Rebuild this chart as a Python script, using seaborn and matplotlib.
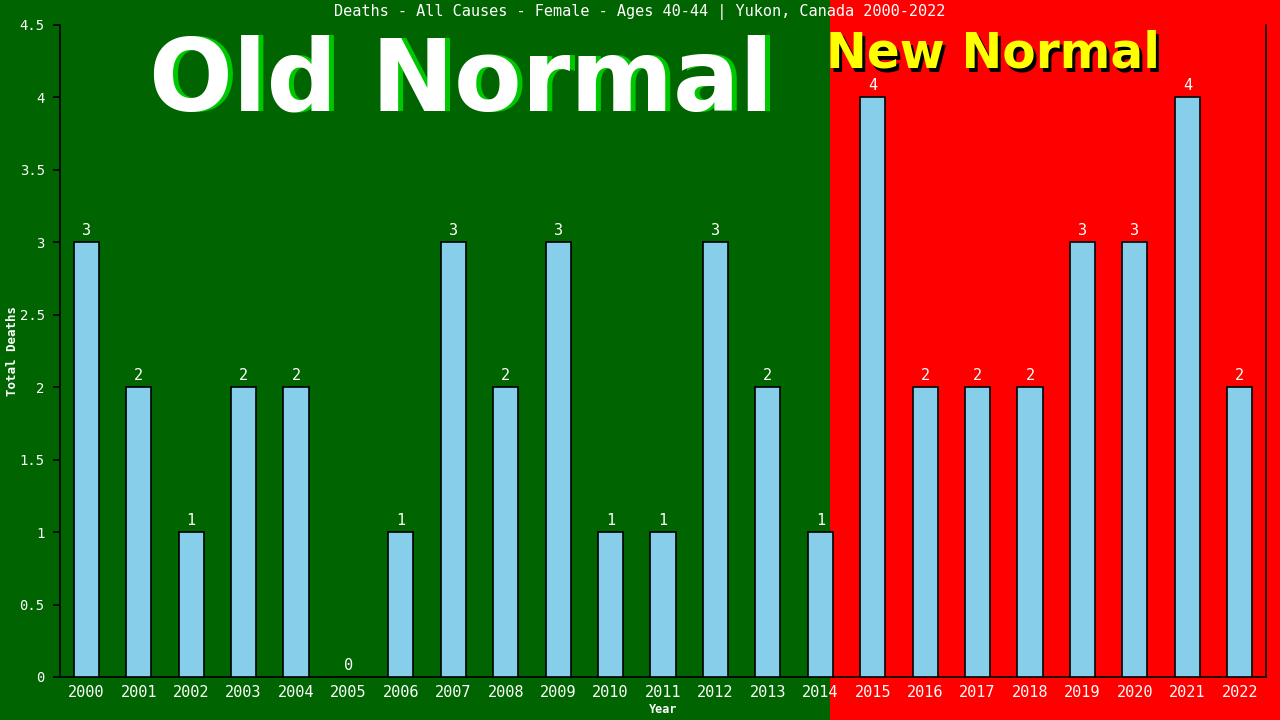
import matplotlib
matplotlib.use("Agg")
import matplotlib.pyplot as plt
import matplotlib.transforms as mtransforms
from matplotlib.patches import Rectangle
import seaborn as sns
import pandas as pd

years = [str(y) for y in range(2000, 2023)]
deaths = [3, 2, 1, 2, 2, 0, 1, 3, 2, 3, 1, 1, 3, 2, 1, 4, 2, 2, 2, 3, 3, 4, 2]
yticks = [0, 0.5, 1, 1.5, 2, 2.5, 3, 3.5, 4, 4.5]
ytick_labels = ["0", "0.5", "1", "1.5", "2", "2.5", "3", "3.5", "4", "4.5"]
title = "Deaths - All Causes - Female - Ages 40-44 | Yukon, Canada 2000-2022"

df = pd.DataFrame({"Year": years, "Deaths": deaths})

sns.set_theme(style="ticks")
plt.rcParams["font.family"] = ["DejaVu Sans Mono", "DejaVu Sans"]

W, H = 1280, 720
fig = plt.figure(figsize=(12.8, 7.2), dpi=100)
fig.patch.set_facecolor("#006400")
red = Rectangle((830 / W, 0), 1 - 830 / W, 1, transform=fig.transFigure,
                facecolor="#FF0000", edgecolor="none", zorder=-10)
fig.add_artist(red)

ax = fig.add_axes([60 / W, (H - 677) / H, (1266 - 60) / W, (677 - 25) / H])
ax.set_facecolor("none")

sns.barplot(data=df, x="Year", y="Deaths", color="#87CEEB", saturation=1,
            width=0.48, edgecolor="black", linewidth=1.2, ax=ax, zorder=3)

for c in ax.containers:
    ax.bar_label(c, labels=[str(v) for v in deaths], padding=3, color="white",
                 fontsize=11)

ax.set_ylim(0, 4.5)
ax.set_yticks(yticks)
ax.set_yticklabels(ytick_labels)
ax.tick_params(axis="y", colors="black", labelcolor="white", labelsize=10,
               length=5, width=1.2, direction="out", pad=6)
ax.tick_params(axis="x", length=0, labelcolor="white", labelsize=11, pad=6)
for s in ["left", "bottom", "right"]:
    ax.spines[s].set_color("black")
    ax.spines[s].set_linewidth(1.2)
ax.spines["top"].set_visible(False)

ax.set_xlabel("Year", color="white", fontsize=8.5, fontweight="bold", labelpad=2)
ax.set_ylabel("Total Deaths", color="white", fontsize=9, fontweight="bold")
ax.yaxis.set_label_coords(-41 / 1206, 0.5)

fig.text(0.5, 1 - 12 / H, title, color="white", fontsize=11, ha="center", va="center")

# Big overlay texts
def shadow_text(x, y, s, color, shadow, size, dx, dy):
    off = mtransforms.offset_copy(fig.transFigure, fig=fig, x=dx, y=-dy, units="dots")
    fig.text(x, y, s, color=shadow, fontsize=size, fontweight="bold",
             family="DejaVu Sans", ha="center", va="baseline", transform=off)
    fig.text(x, y, s, color=color, fontsize=size, fontweight="bold",
             family="DejaVu Sans", ha="center", va="baseline")

shadow_text(461 / W, 1 - 111 / H, "Old Normal", "white", "#00C800", 71, 5, 0)
shadow_text(993 / W, 1 - 68 / H, "New Normal", "#FFFF00", "black", 35, 3, 3)

fig.savefig("out.png", dpi=100, facecolor=fig.get_facecolor())
